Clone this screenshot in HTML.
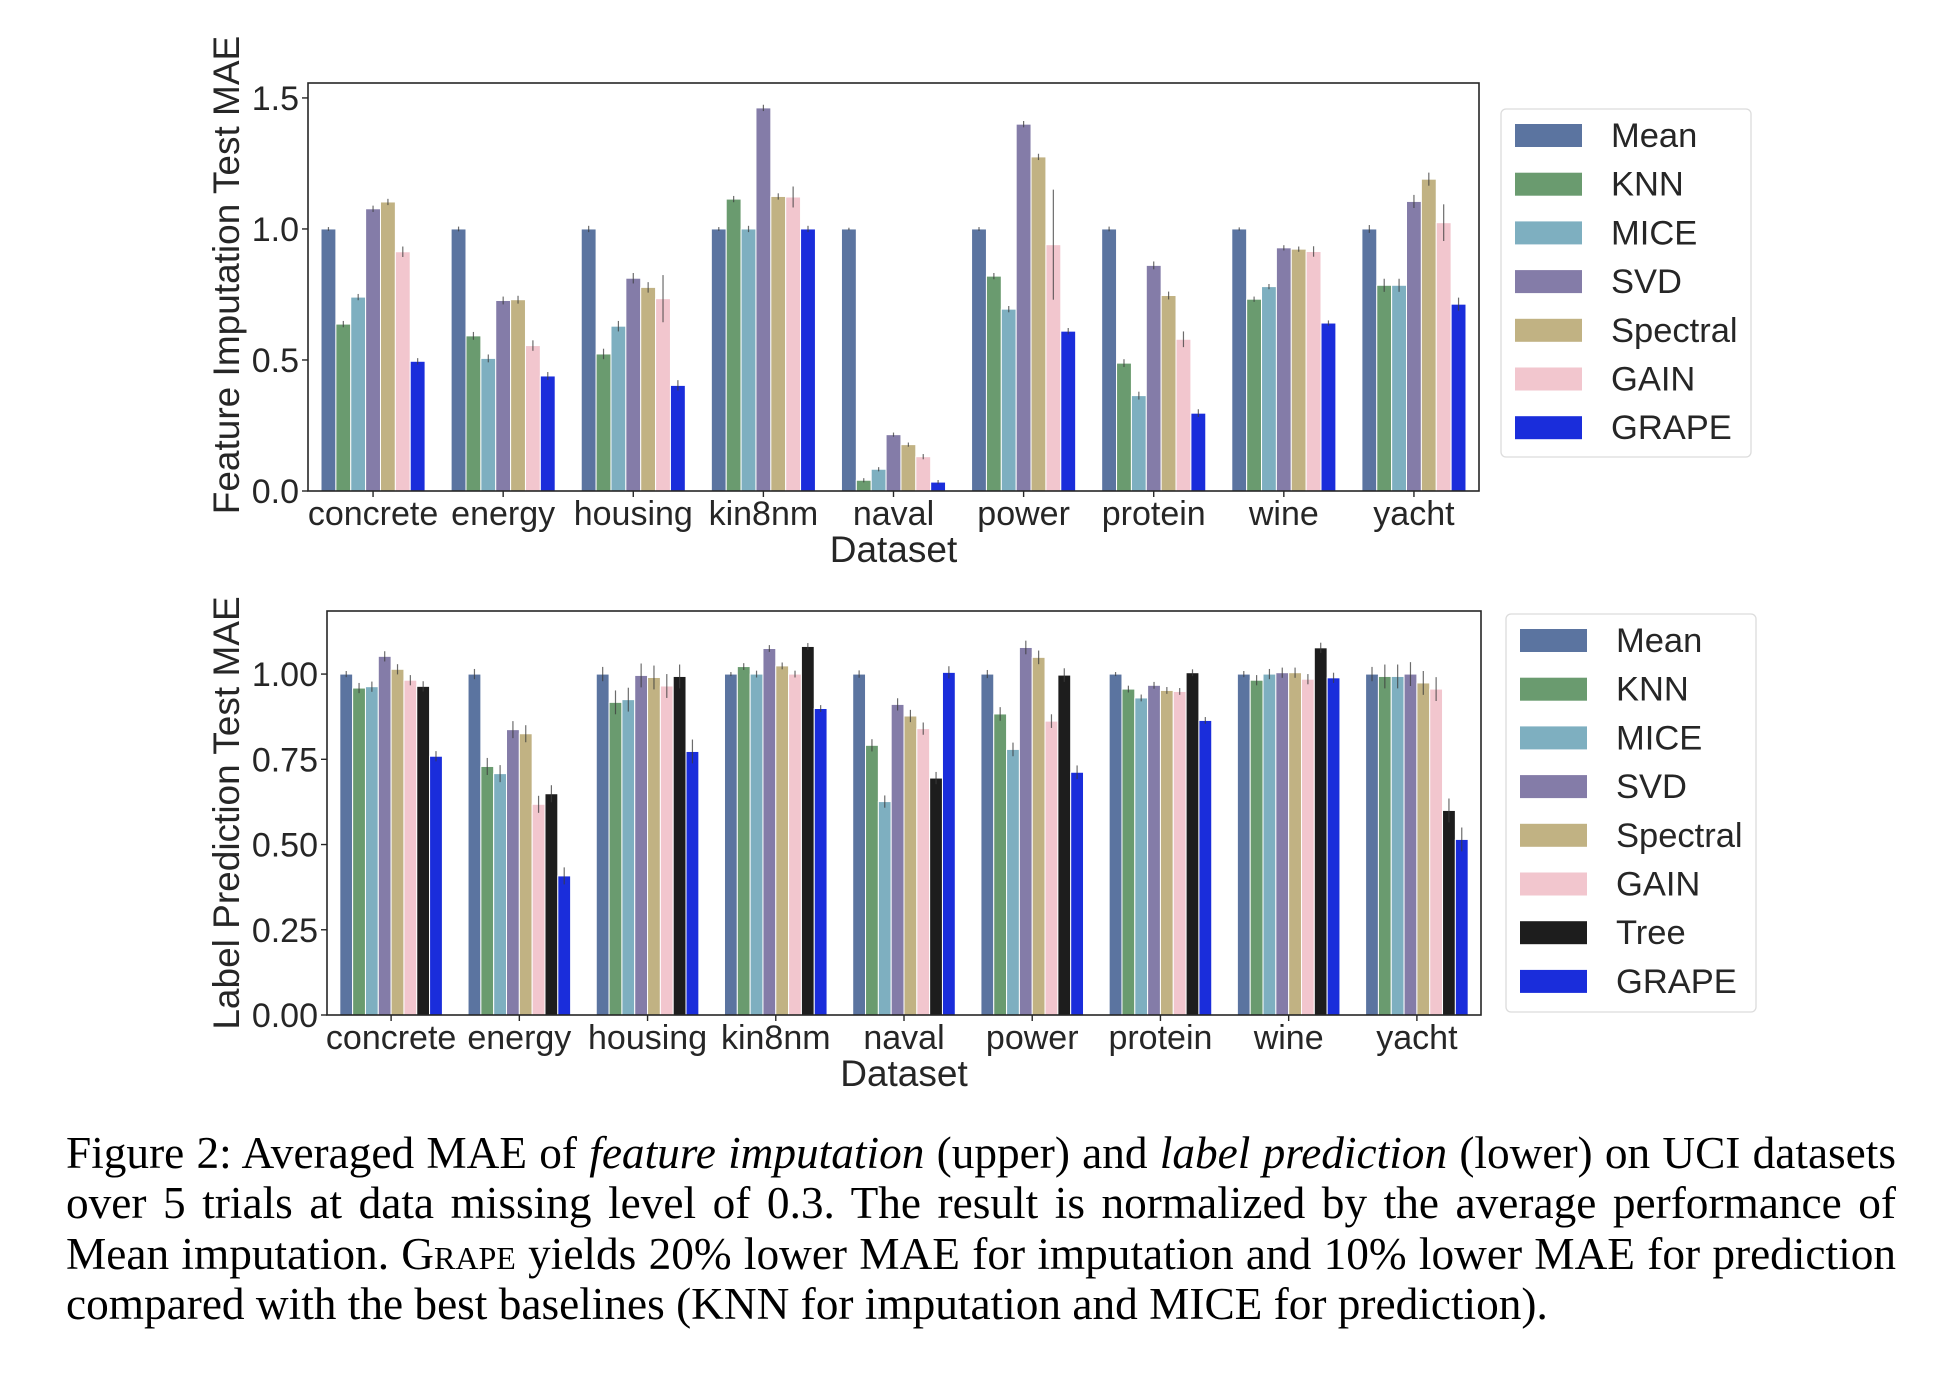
<!DOCTYPE html>
<html><head><meta charset="utf-8">
<style>
html,body{margin:0;padding:0;background:#fff;}
body{width:1954px;height:1378px;position:relative;overflow:hidden;}
svg text{font-family:"Liberation Sans",sans-serif;fill:#262626;}
#caption{position:absolute;left:66px;top:1128px;width:1830px;font-family:"Liberation Serif",serif;font-size:45.3px;line-height:50.3px;color:#000;}
#caption .ln{text-align:justify;text-align-last:justify;white-space:nowrap;}
#caption .ln.last{text-align-last:left;}
.sc{font-variant:small-caps;}
</style></head>
<body>
<svg id="chart" width="1954" height="1130" xmlns="http://www.w3.org/2000/svg"></svg>
<div id="caption">
<div class="ln">Figure 2: Averaged MAE of <i>feature imputation</i> (upper) and <i>label prediction</i> (lower) on UCI datasets</div>
<div class="ln">over 5 trials at data missing level of 0.3. The result is normalized by the average performance of</div>
<div class="ln">Mean imputation. <span class="sc">Grape</span> yields 20% lower MAE for imputation and 10% lower MAE for prediction</div>
<div class="ln last">compared with the best baselines (KNN for imputation and MICE for prediction).</div>
</div>
<script>
const categories=["concrete","energy","housing","kin8nm","naval","power","protein","wine","yacht"];
const topSeries=["Mean","KNN","MICE","SVD","Spectral","GAIN","GRAPE"];
const topMean=[1,1,1,1,1,1,1,1,1];
const topKNN=[0.637,0.592,0.523,1.114,0.041,0.82,0.488,0.732,0.785];
const topMICE=[0.74,0.506,0.629,1.0,0.083,0.694,0.364,0.78,0.785];
const topSVD=[1.077,0.727,0.812,1.462,0.215,1.40,0.861,0.928,1.105];
const topSpectral=[1.103,0.73,0.777,1.124,0.177,1.275,0.746,0.923,1.19];
const topGAIN=[0.913,0.555,0.734,1.122,0.131,0.94,0.579,0.914,1.024];
const topGRAPE=[0.495,0.439,0.403,1.0,0.034,0.61,0.297,0.641,0.713];
const topErr=[0.012,0.015,0.02,0.012,0.008,0.012,0.015,0.01,0.025];
const topGainErr=[0.02,0.02,0.09,0.04,0.01,0.21,0.03,0.02,0.07];
const topTicks=["0.0","0.5","1.0","1.5"];
const botSeries=["Mean","KNN","MICE","SVD","Spectral","GAIN","Tree","GRAPE"];
const botMean=[1,1,1,1,1,1,1,1,1];
const botKNN=[0.959,0.729,0.917,1.022,0.791,0.883,0.956,0.982,0.993];
const botMICE=[0.963,0.708,0.925,1.0,0.626,0.779,0.93,1.0,0.993];
const botSVD=[1.052,0.837,0.996,1.075,0.911,1.078,0.967,1.004,1.0];
const botSpectral=[1.014,0.825,0.99,1.024,0.877,1.049,0.952,1.004,0.974];
const botGAIN=[0.982,0.618,0.965,1.0,0.84,0.862,0.949,0.985,0.956];
const botTree=[0.964,0.649,0.993,1.081,0.695,0.997,1.004,1.077,0.6];
const botGRAPE=[0.759,0.408,0.773,0.899,1.005,0.712,0.864,0.989,0.515];
const botErr=[0.015,0.025,0.035,0.01,0.018,0.02,0.01,0.015,0.035];
const botTicks=["0.00","0.25","0.50","0.75","1.00"];
const colors={Mean:"#5b74a0",KNN:"#6a9b6f",MICE:"#7eafc0",SVD:"#847ca8",Spectral:"#c1b283",GAIN:"#f2c6ce",Tree:"#1d1d1d",GRAPE:"#1a2ddb"};
const NS="http://www.w3.org/2000/svg";
const svg=document.getElementById('chart');
function mk(tag,attrs,parent){const e=document.createElementNS(NS,tag);for(const k in attrs)e.setAttribute(k,attrs[k]);(parent||svg).appendChild(e);return e;}

function drawPanel(cfg){
  const g=mk('g',{});
  
  
  const L=cfg.left,R=cfg.right,T=cfg.top,B=cfg.bottom;
  const y=v=>B-(v/cfg.ymax)*(B-T);
  const cw=(R-L)/categories.length;
  const x=i=>L+cw*(i+0.5);
  const n=cfg.series.length, bw=cw*0.8/n;
  cfg.series.forEach((s,si)=>{
    const vals=cfg.data[si];
    vals.forEach((v,ci)=>{
      const bx=x(ci)-cw*0.4+si*bw;
      const r=mk('rect',{x:bx,y:y(v),width:bw,height:B-y(v),fill:colors[s],stroke:"#fff","stroke-width":1},g);
      
      
      let e=(s==="GAIN"&&cfg.gainErr)?cfg.gainErr[ci]:cfg.err[ci];
      if(s==="Mean")e*=0.6;
      const l=mk('line',{x1:bx+bw/2,x2:bx+bw/2,y1:y(v+e),y2:y(Math.max(0,v-e)),stroke:"#3c3c3c","stroke-width":1.2,opacity:0.75},g);
      
      
    });
  });
  const fr=mk('rect',{x:L,y:T,width:R-L,height:B-T,fill:"none",stroke:"#262626","stroke-width":1.6},g);
  
  
  cfg.ticks.forEach(t=>{
    const yy=y(parseFloat(t));
    mk('line',{x1:L-6,x2:L,y1:yy,y2:yy,stroke:"#262626","stroke-width":1.4},g);
    const tx=mk('text',{x:L-9,y:yy+12,"text-anchor":"end","font-size":34},g);
    tx.textContent=t;
    
    
  });
  categories.forEach((c,ci)=>{
    mk('line',{x1:x(ci),x2:x(ci),y1:B,y2:B+6,stroke:"#262626","stroke-width":1.4},g);
    const tx=mk('text',{x:x(ci),y:B+34,"text-anchor":"middle","font-size":34},g);
    tx.textContent=c;
    
    
  });
  const xt=mk('text',{x:(L+R)/2,y:B+71,"text-anchor":"middle","font-size":37},g);
  xt.textContent="Dataset";
  
  
  const yt=mk('text',{x:0,y:0,"text-anchor":"middle","font-size":37,transform:`translate(${cfg.ytx},${(T+B)/2-cfg.ytOff}) rotate(-90)`},g);
  yt.textContent=cfg.ytitle;
  
  
  const lg=mk('g',{},g);
  
  
  mk('rect',{x:cfg.lx,y:cfg.ly,width:250,height:cfg.lh,rx:5,fill:"#fff",stroke:"#dcdcdc","stroke-width":1.3},lg);
  cfg.series.forEach((s,si)=>{
    const cy=cfg.ly+26+si*cfg.lstep;
    const p=mk('rect',{x:cfg.lx+14,y:cy-11,width:67,height:23,fill:colors[s]},lg);
    
    
    const t=mk('text',{x:cfg.lx+110,y:cy+12,"font-size":34.5},lg);
    t.textContent=s;
    
    
  });
}
drawPanel({name:'feature-imputation-chart',left:308,right:1479,top:83,bottom:491,ymax:1.557,
  series:topSeries,data:[topMean,topKNN,topMICE,topSVD,topSpectral,topGAIN,topGRAPE],err:topErr,gainErr:topGainErr,ticks:topTicks,
  ytitle:"Feature Imputation Test MAE",ytx:239,ytOff:12,lx:1501,ly:109,lh:348,lstep:48.7});
drawPanel({name:'label-prediction-chart',left:327,right:1481,top:611,bottom:1015,ymax:1.185,
  series:botSeries,data:[botMean,botKNN,botMICE,botSVD,botSpectral,botGAIN,botTree,botGRAPE],err:botErr,ticks:botTicks,
  ytitle:"Label Prediction Test MAE",ytx:239,ytOff:0,lx:1506,ly:614,lh:398,lstep:48.7});
</script>
</body></html>
